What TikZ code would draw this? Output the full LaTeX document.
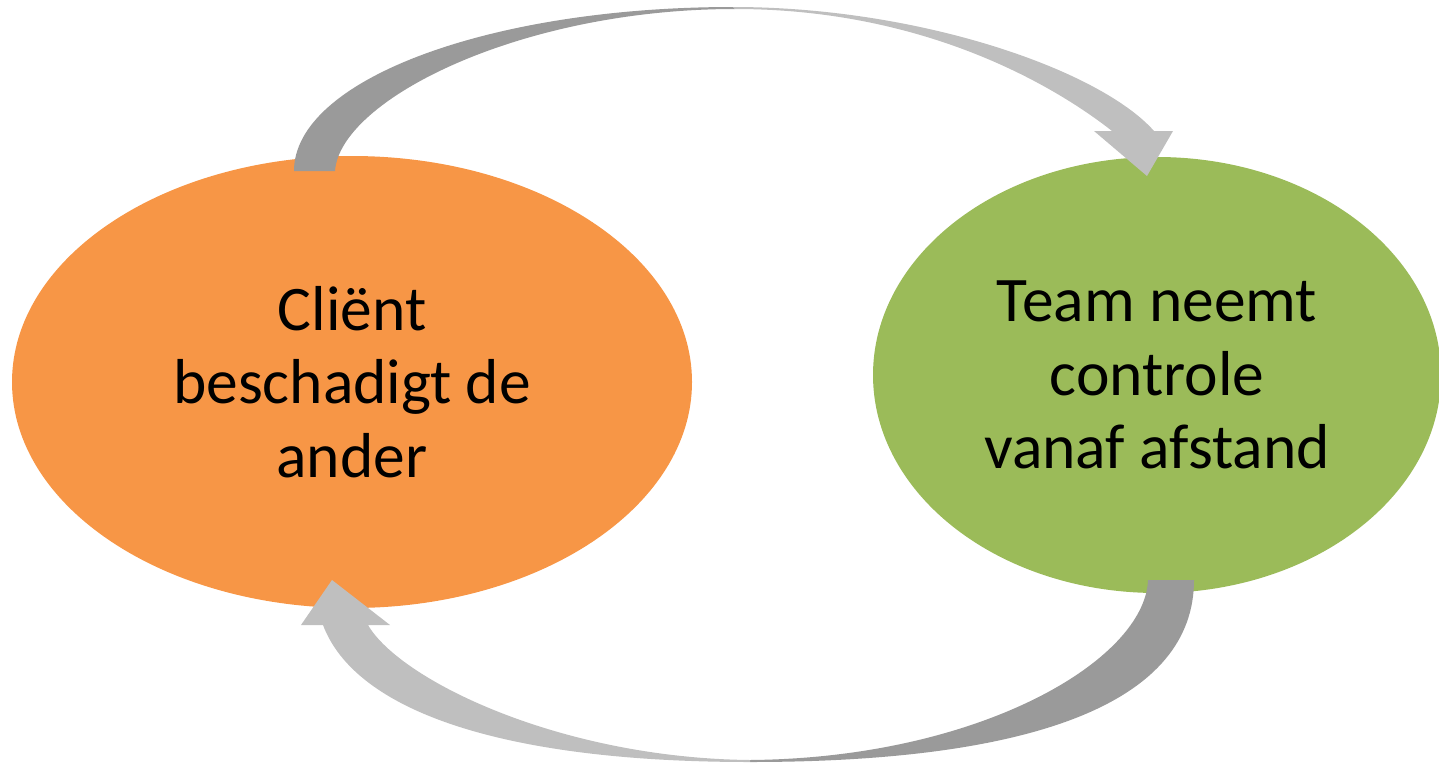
\documentclass[tikz,border=0pt]{standalone}
\usepackage{fontspec}
\setmainfont{Carlito}
\usetikzlibrary{shapes.geometric}
\definecolor{corange}{HTML}{F79646}
\definecolor{cgreen}{HTML}{9BBB59}
\definecolor{cdark}{HTML}{9A9A9A}
\definecolor{clight}{HTML}{BFBFBF}
\begin{document}
\begin{tikzpicture}[x=1pt,y=-1pt,
  blob/.style={ellipse, inner sep=0pt, align=center, text=black,
    font=\fontsize{63.5}{73.5}\selectfont}]
\useasboundingbox (0,0) rectangle (1439,763);
\node[blob, fill=corange, minimum width=680pt, minimum height=452pt] (client) at (352,382) {Cliënt\\beschadigt de\\ander};
\node[blob, fill=cgreen, minimum width=568pt, minimum height=436pt] (team) at (1157,375) {Team neemt\\controle\\vanaf afstand};
% top curved arrow: client -> team
\fill[cdark] (294,171) .. controls (294,80) and (489,7) .. (733,7) -- (735,9)
  .. controls (520,9) and (340,100) .. (335,171) -- cycle;
\fill[clight] (733,7) .. controls (920,7) and (1100,70) .. (1154,131)
  -- (1173,131) -- (1147,176) -- (1094,131) -- (1112,131)
  .. controls (1060,90) and (930,9) .. (735,9) -- cycle;
% bottom curved arrow: team -> client
\fill[cdark] (1194,580) .. controls (1194,700) and (1040,762) .. (750,762) -- (750,760)
  .. controls (980,758) and (1145,660) .. (1148,580) -- cycle;
\fill[clight] (750,762) .. controls (500,762) and (355,710) .. (323,625)
  -- (301,625) -- (332,580) -- (390,625) -- (368,625)
  .. controls (400,680) and (560,758) .. (750,760) -- cycle;
\end{tikzpicture}
\end{document}
